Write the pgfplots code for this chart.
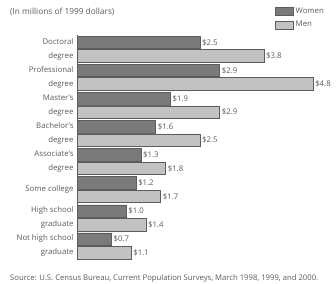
\documentclass[border=0pt]{standalone}
\usepackage{pgfplots}
\pgfplotsset{compat=1.18}
\usepackage{fontspec}
\setmainfont{Open Sans}
\definecolor{txt}{HTML}{5A5A5A}
\definecolor{women}{HTML}{7A7A7A}
\definecolor{men}{HTML}{C2C2C2}
\definecolor{edge}{HTML}{5C5C5C}
\begin{document}
\begin{tikzpicture}
\path[use as bounding box] (0pt,0pt) rectangle (336pt,-283pt);
\begin{axis}[
  at={(77pt,-260pt)}, anchor=south west,
  scale only axis, width=236pt, height=225pt,
  xmin=0, xmax=4.8, ymin=-0.5, ymax=7.5, y dir=reverse,
  axis x line=none,
  axis y line*=left,
  axis line style={draw=edge, line width=0.6pt},
  ytick={0,...,7},
  yticklabels={{Doctoral\\degree},{Professional\\degree},{Master's\\degree},{Bachelor's\\degree},{Associate's\\degree},{Some college},{High school\\graduate},{Not high school\\graduate}},
  yticklabel style={font=\fontsize{7.8}{14}\selectfont, align=right, text=txt},
  major tick length=0pt,
  clip=false,
  xbar, bar width=12.5pt,
  /pgf/number format/assume math mode=true,
  nodes near coords={\$\pgfmathprintnumber[fixed,fixed zerofill,precision=1]{\pgfplotspointmeta}},
  nodes near coords style={font=\fontsize{7.8}{8}\selectfont, text=txt, anchor=west, inner sep=2pt},
  legend style={at={(0.839,1.129)}, anchor=north west, draw=none, fill=none, inner sep=0pt,
    font=\fontsize{7.8}{8}\selectfont, text=txt, row sep=2pt,
    /tikz/every even column/.append style={column sep=3pt}},
  legend image code/.code={\draw[#1,/tikz/.cd] (0pt,-4pt) rectangle (18pt,4pt);},
  legend cell align=left,
]
\addplot[fill=women, draw=edge, line width=0.5pt, bar shift=6.7pt] coordinates {
(2.5,0) (2.9,1) (1.9,2) (1.6,3) (1.3,4) (1.2,5) (1.0,6) (0.7,7)};
\addplot[fill=men, draw=edge, line width=0.5pt, bar shift=-6.7pt] coordinates {
(3.8,0) (4.8,1) (2.9,2) (2.5,3) (1.8,4) (1.7,5) (1.4,6) (1.1,7)};
\legend{Women, Men}
\end{axis}
\node[anchor=west, font=\fontsize{8.3}{9}\selectfont, text=txt, inner sep=0pt] at (10pt,-12pt) {(In millions of 1999 dollars)};
\node[anchor=west, font=\fontsize{7.7}{9}\selectfont, text=txt, inner sep=0pt] at (10pt,-278pt) {Source: U.S. Census Bureau, Current Population Surveys, March 1998, 1999, and 2000.};
\end{tikzpicture}
\end{document}
